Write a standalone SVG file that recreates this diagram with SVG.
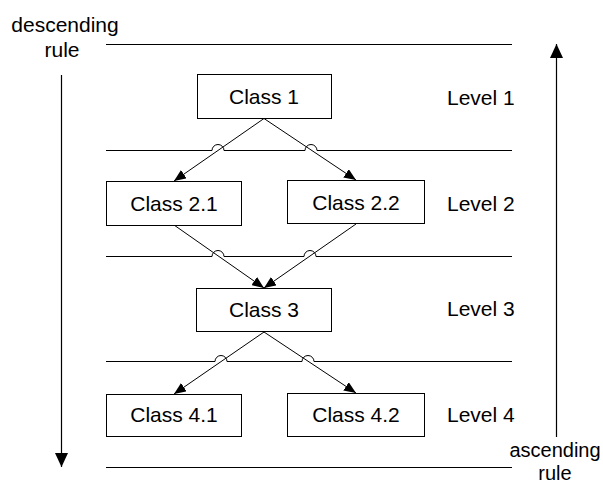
<svg xmlns="http://www.w3.org/2000/svg" width="603" height="486" viewBox="0 0 603 486">
  <style>
    text { font-family: "Liberation Sans", Arial, sans-serif; font-size: 21px; fill: #000; }
    .mid { text-anchor: middle; }
    .small { font-size: 20px; }
    .box { fill: #fff; stroke: #000; stroke-width: 1; }
    .rule { fill: none; stroke: #000; stroke-width: 1; }
    .edge { fill: none; stroke: #000; stroke-width: 1; marker-end: url(#head); }
    .axis { fill: none; stroke: #000; stroke-width: 1.2; marker-end: url(#bighead); }
  </style>
  <defs>
    <marker id="head" viewBox="0 0 12 10" refX="12" refY="5" markerWidth="12" markerHeight="10" markerUnits="userSpaceOnUse" orient="auto">
      <path d="M0,0 L12,5 L0,10 Z" fill="#000"/>
    </marker>
    <marker id="bighead" viewBox="0 0 14 13" refX="14" refY="6.5" markerWidth="14" markerHeight="13" markerUnits="userSpaceOnUse" orient="auto">
      <path d="M0,0 L14,6.5 L0,13 Z" fill="#000"/>
    </marker>
  </defs>

  <!-- level separators, hopping over the crossing edges -->
  <g id="separators">
    <path class="rule" d="M106,44.5 H512"/>
    <path class="rule" d="M106,150.5 H212 A6,6 0 0 1 224,150.5 H305 A6,6 0 0 1 317,150.5 H512"/>
    <path class="rule" d="M106,256.5 H212 A6,6 0 0 1 224,256.5 H304 A6,6 0 0 1 316,256.5 H512"/>
    <path class="rule" d="M106,361.5 H215 A6,6 0 0 1 227,361.5 H302 A6,6 0 0 1 314,361.5 H512"/>
    <path class="rule" d="M106,467.5 H512"/>
  </g>

  <!-- rule direction arrows -->
  <g id="descending-rule">
    <path class="axis" d="M61.5,75 V467"/>
    <text class="mid" x="65" y="32">descending</text>
    <text class="mid" x="62" y="57">rule</text>
  </g>
  <g id="ascending-rule">
    <path class="axis" d="M556.5,437 V44"/>
    <text class="mid small" x="555" y="457">ascending</text>
    <text class="mid small" x="555" y="480">rule</text>
  </g>

  <!-- connectors -->
  <g id="connectors">
    <path class="edge" d="M264,118.5 L174,181"/>
    <path class="edge" d="M264,118.5 L356,180"/>
    <path class="edge" d="M174,225 L264,288"/>
    <path class="edge" d="M356,224 L264,288"/>
    <path class="edge" d="M264,332 L174,394"/>
    <path class="edge" d="M264,332 L356,393"/>
  </g>

  <!-- class nodes -->
  <g id="class-1">
    <rect class="box" x="197.5" y="74.5" width="134" height="44"/>
    <text class="mid" x="264" y="103.5">Class 1</text>
  </g>
  <g id="class-2-1">
    <rect class="box" x="106.5" y="181.5" width="135" height="44"/>
    <text class="mid" x="174" y="210.5">Class 2.1</text>
  </g>
  <g id="class-2-2">
    <rect class="box" x="287.5" y="180.5" width="137" height="43"/>
    <text class="mid" x="356" y="209.5">Class 2.2</text>
  </g>
  <g id="class-3">
    <rect class="box" x="196.5" y="288.5" width="135" height="43"/>
    <text class="mid" x="264" y="316.5">Class 3</text>
  </g>
  <g id="class-4-1">
    <rect class="box" x="106.5" y="394.5" width="135" height="42"/>
    <text class="mid" x="174" y="422">Class 4.1</text>
  </g>
  <g id="class-4-2">
    <rect class="box" x="287.5" y="393.5" width="137" height="43"/>
    <text class="mid" x="356" y="421.5">Class 4.2</text>
  </g>

  <!-- level labels -->
  <g id="levels">
    <text x="447" y="104.5">Level 1</text>
    <text x="447" y="210.5">Level 2</text>
    <text x="447" y="315.5">Level 3</text>
    <text x="447" y="421.5">Level 4</text>
  </g>
</svg>
